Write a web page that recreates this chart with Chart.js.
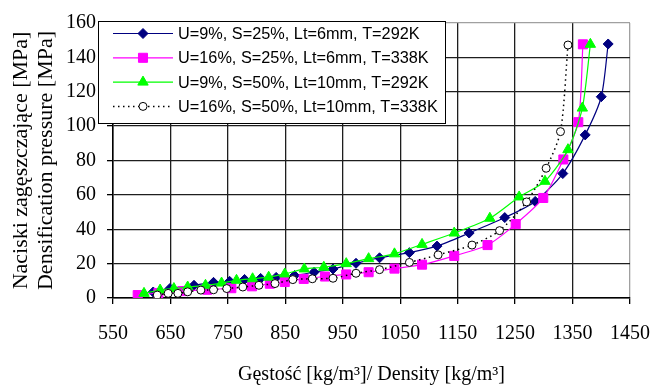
<!DOCTYPE html>
<html>
<head>
<meta charset="utf-8">
<script src="https://cdn.jsdelivr.net/npm/chart.js@4.4.1/dist/chart.umd.min.js"></script>
<style>
  html, body { margin: 0; padding: 0; background: #fff; }
</style>
</head>
<body>
<canvas id="chart" width="668" height="388"></canvas>
<script>
// series names as in the legend
const seriesLabels = [
  'U=9%, S=25%, Lt=6mm, T=292K',
  'U=16%, S=25%, Lt=6mm, T=338K',
  'U=9%, S=50%, Lt=10mm, T=292K',
  'U=16%, S=50%, Lt=10mm, T=338K'
];

// density [kg/m3] and pressure [MPa]
const densityA = [620, 649, 691, 725, 753, 779, 807, 834, 866, 900, 933, 973, 1014, 1066, 1114, 1170, 1232, 1285, 1333, 1372, 1400, 1412];
const pressureA = [3.5, 5.5, 7.4, 9.1, 9.7, 10.8, 11.4, 12.0, 13.1, 15.0, 16.9, 20.2, 23.4, 26.4, 30.2, 37.8, 46.8, 56.2, 72.4, 94.9, 117.1, 147.8];

const densityB = [593, 629, 671, 714, 756, 792, 823, 849, 882, 919, 956, 995, 1040, 1088, 1144, 1202, 1251, 1299, 1334, 1360, 1368];
const pressureB = [1.7, 2.9, 4.0, 4.8, 5.7, 6.8, 8.3, 9.3, 11.1, 12.5, 13.7, 15.0, 17.1, 19.4, 24.5, 30.8, 43.0, 58.2, 80.6, 102.3, 147.6];

const densityC = [604, 632, 656, 680, 711, 739, 765, 793, 821, 849, 883, 917, 956, 995, 1040, 1088, 1144, 1206, 1257, 1302, 1342, 1367, 1381];
const pressureC = [2.7, 4.6, 5.5, 6.4, 7.4, 8.7, 10.3, 11.2, 12.1, 14.0, 16.9, 17.9, 20.0, 22.9, 25.7, 31.2, 37.8, 46.4, 58.8, 67.9, 86.3, 110.5, 147.6];

const densityD = [627, 646, 663, 680, 703, 725, 748, 776, 804, 832, 863, 897, 933, 973, 1014, 1066, 1116, 1175, 1223, 1270, 1304, 1329, 1342];
const pressureD = [1.7, 2.7, 2.7, 3.6, 4.6, 4.8, 5.5, 6.4, 7.4, 8.4, 10.7, 11.2, 11.5, 14.4, 16.5, 20.7, 25.1, 30.8, 39.2, 55.9, 75.5, 96.8, 147.2];

// axis range and tick step
const xMin = 550, xMax = 1450, xStep = 100;
const yMin = 0, yMax = 160, yStep = 20;

const toPoints = (xs, ys) => xs.map((x, i) => ({ x: x, y: ys[i] }));

const serif = "'Liberation Serif', 'Times New Roman', serif";

// draws the boxed legend in the top-left corner of the plot
const boxLegend = {
  id: 'boxLegend',
  afterDraw(chart) {
    const ctx = chart.ctx;
    ctx.save();
    ctx.fillStyle = '#fff';
    ctx.fillRect(98.5, 21.5, 347, 102);
    ctx.strokeStyle = '#000';
    ctx.lineWidth = 1;
    ctx.strokeRect(98.5, 21.5, 347, 102);

    chart.data.datasets.forEach((ds, i) => {
      const y = 33.5 + i * 24.3;
      ctx.strokeStyle = ds.borderColor;
      ctx.lineWidth = ds.borderWidth;
      ctx.setLineDash(ds.borderDash || []);
      ctx.beginPath();
      ctx.moveTo(113, y);
      ctx.lineTo(173, y);
      ctx.stroke();
      ctx.setLineDash([]);

      const x = 143, r = ds.pointRadius;
      ctx.fillStyle = ds.pointBackgroundColor;
      ctx.strokeStyle = ds.pointBorderColor;
      ctx.lineWidth = 1;
      ctx.beginPath();
      if (ds.pointStyle === 'rectRot') {
        ctx.moveTo(x, y - r); ctx.lineTo(x + r, y); ctx.lineTo(x, y + r); ctx.lineTo(x - r, y);
      } else if (ds.pointStyle === 'rect') {
        const s = r * Math.SQRT1_2;
        ctx.rect(x - s, y - s, 2 * s, 2 * s);
      } else if (ds.pointStyle === 'triangle') {
        ctx.moveTo(x, y - r); ctx.lineTo(x + r * 0.866, y + r * 0.5); ctx.lineTo(x - r * 0.866, y + r * 0.5);
      } else {
        ctx.arc(x, y, r, 0, Math.PI * 2);
      }
      ctx.closePath();
      ctx.fill();
      ctx.stroke();

      ctx.fillStyle = '#000';
      ctx.font = "16.3px 'Liberation Sans', Arial, sans-serif";
      ctx.textBaseline = 'middle';
      ctx.fillText(ds.label, 178, y + 1);
    });
    ctx.restore();
  }
};

new Chart(document.getElementById('chart'), {
  type: 'line',
  data: {
    datasets: [
      {
        label: seriesLabels[0],
        data: toPoints(densityA, pressureA),
        borderColor: '#000080',
        borderWidth: 1.2,
        pointStyle: 'rectRot',
        pointRadius: 5,
        pointBackgroundColor: '#000080',
        pointBorderColor: '#000080',
        pointBorderWidth: 1,
        tension: 0.25,
        order: 3
      },
      {
        label: seriesLabels[1],
        data: toPoints(densityB, pressureB),
        borderColor: '#ff00ff',
        borderWidth: 1.2,
        pointStyle: 'rect',
        pointRadius: 6.4,
        pointBackgroundColor: '#ff00ff',
        pointBorderColor: '#ff00ff',
        pointBorderWidth: 1,
        tension: 0.25,
        order: 2
      },
      {
        label: seriesLabels[2],
        data: toPoints(densityC, pressureC),
        borderColor: '#00ff00',
        borderWidth: 1.2,
        pointStyle: 'triangle',
        pointRadius: 6,
        pointBackgroundColor: '#00ff00',
        pointBorderColor: '#00ff00',
        pointBorderWidth: 1,
        tension: 0.25,
        order: 1
      },
      {
        label: seriesLabels[3],
        data: toPoints(densityD, pressureD),
        borderColor: '#000',
        borderWidth: 1.5,
        borderDash: [1.5, 3.5],
        pointStyle: 'circle',
        pointRadius: 4,
        pointBackgroundColor: '#fff',
        pointBorderColor: '#000',
        pointBorderWidth: 1,
        tension: 0.25,
        order: 0
      }
    ]
  },
  options: {
    responsive: false,
    animation: false,
    layout: { padding: { left: 0, right: 22, top: 17, bottom: 0 } },
    plugins: {
      legend: { display: false },
      tooltip: { enabled: false }
    },
    scales: {
      x: {
        type: 'linear',
        min: xMin,
        max: xMax,
        afterFit: (scale) => { scale.height = 90; },
        ticks: {
          stepSize: xStep,
          color: '#000',
          padding: 18,
          maxRotation: 0,
          autoSkip: false,
          callback: (v) => String(v),
          font: { family: serif, size: 20 }
        },
        grid: {
          color: (c) => (c.index === 9 ? '#a0a0a0' : '#1e1e1e'),
          lineWidth: 1.3,
          tickLength: 6,
          tickColor: '#000'
        },
        border: { color: '#000', width: 1.5 },
        title: {
          display: true,
          text: 'Gęstość [kg/m³]/ Density [kg/m³]',
          color: '#000',
          font: { family: serif, size: 20, lineHeight: 1.15 },
          padding: { top: 0, bottom: 2 }
        }
      },
      y: {
        min: yMin,
        max: yMax,
        afterFit: (scale) => { scale.width = 113; },
        ticks: {
          stepSize: yStep,
          color: '#000',
          padding: 11,
          callback: (v) => String(v),
          font: { family: serif, size: 20 }
        },
        grid: {
          color: (c) => (c.index === 8 ? '#a0a0a0' : '#1e1e1e'),
          lineWidth: 1.3,
          tickLength: 6,
          tickColor: '#000'
        },
        border: { color: '#000', width: 1.5 },
        title: {
          display: true,
          text: ['Naciski zagęszczające [MPa]', 'Densification pressure [MPa]'],
          color: '#000',
          font: { family: serif, size: 22, lineHeight: 1.14 },
          padding: { top: 9, bottom: 0 }
        }
      }
    }
  },
  plugins: [boxLegend]
});
</script>
</body>
</html>
